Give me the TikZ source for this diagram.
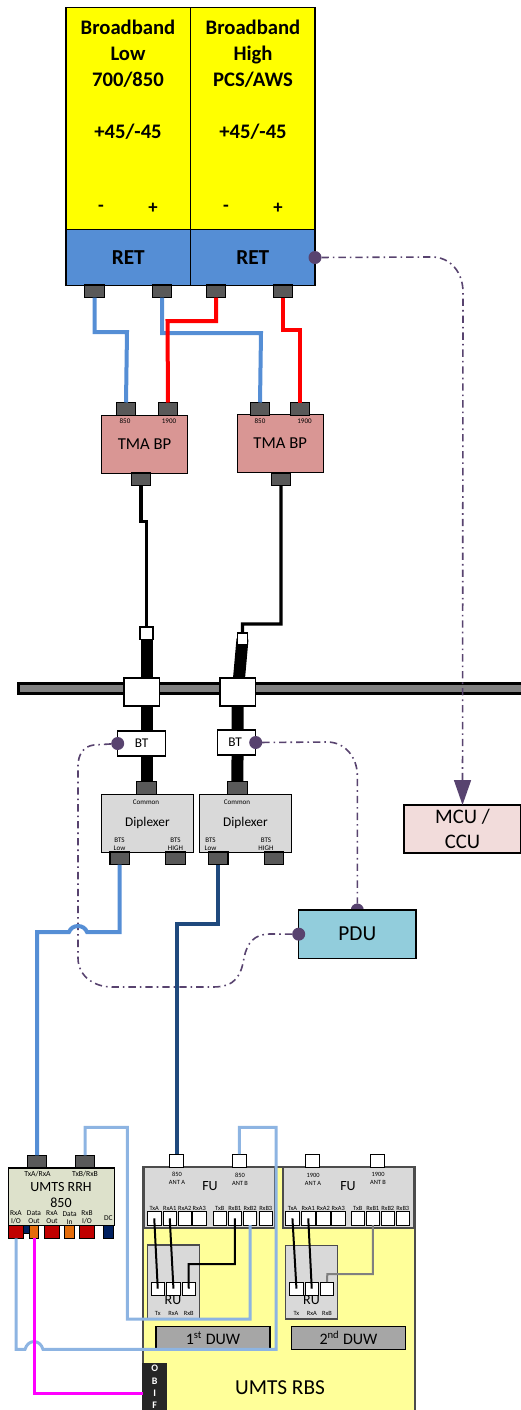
\documentclass[tikz,border=0pt]{standalone}
\usepackage{fontspec}
\setmainfont{Carlito}
\usetikzlibrary{arrows.meta,positioning,backgrounds}
\definecolor{retblue}{HTML}{558ED5}
\definecolor{lightwire}{HTML}{8DB4E2}
\definecolor{darkwire}{HTML}{1F497D}
\definecolor{tmared}{HTML}{D99694}
\definecolor{portgray}{HTML}{595959}
\definecolor{boxgray}{HTML}{D9D9D9}
\definecolor{pducol}{HTML}{92CDDC}
\definecolor{mcucol}{HTML}{F2DCDB}
\definecolor{rrhcol}{HTML}{DDE1CB}
\definecolor{rbscol}{HTML}{FFFF99}
\definecolor{duwcol}{HTML}{A6A6A6}
\definecolor{ctrl}{HTML}{58436F}
\definecolor{redport}{HTML}{C00000}
\definecolor{orangeport}{HTML}{E46C0A}
\definecolor{navyport}{HTML}{002060}
\definecolor{magwire}{HTML}{FF00FF}
\definecolor{redwire}{HTML}{FF0000}
\definecolor{antyellow}{HTML}{FFFF00}

\begin{document}
\begin{tikzpicture}[
  x=0.75pt, y=-0.75pt,
  wh/.style 2 args={minimum width=#1*0.75pt, minimum height=#2*0.75pt},
  box/.style={draw, line width=0.8pt, inner sep=0pt, outer sep=0pt, align=center, anchor=north west},
  gport/.style={box, fill=portgray, wh={19.4}{12.7}, anchor=north},
  wport/.style={box, line width=0.6pt, fill=white, wh={14}{13}, anchor=north},
  fport/.style={box, line width=0.6pt, fill=white, wh={13.5}{13.3}},
  cport/.style={box, wh={#1}{13}},
  dot/.style={circle, fill=ctrl, inner sep=0pt, outer sep=0pt, minimum size=13*0.75pt},
  lab/.style={font=\fontsize{5.3}{6}\selectfont, align=center, inner sep=0pt},
  fulab/.style={font=\fontsize{4.8}{6}\selectfont, align=center, inner sep=0pt},
  headtxt/.style={font=\fontsize{15.5}{19.5}\selectfont\bfseries, align=center, inner sep=0pt},
  rettxt/.style={box, fill=retblue, wh={124.5}{56}, font=\fontsize{16}{18}\selectfont\bfseries},
  tmabox/.style={box, fill=tmared, wh={86}{58}, font=\fontsize{12.5}{14}\selectfont},
  dipbox/.style={box, fill=boxgray, wh={91.5}{58}, font=\fontsize{10}{11}\selectfont},
  bigtxt/.style={font=\fontsize{15.5}{18.7}\selectfont, align=center},
  midtxt/.style={inner sep=0pt, align=center, font=\fontsize{10.5}{12}\selectfont},
  wire/.style={line width=3pt, line join=miter},
  thinwire/.style={line width=2.25pt, lightwire},
  fuwire/.style={line width=1.5pt},
  cable/.style={line width=9pt},
  ctrlline/.style={ctrl, line width=1.2pt, dash pattern=on 5.5pt off 3pt on 1.2pt off 3pt},
]
\useasboundingbox (0,0) rectangle (521,1410);

\node[box, fill=antyellow, wh={124.5}{222}] (antlow) at (66,7.5) {};
\node[box, fill=antyellow, wh={124.5}{222}, right=0pt of antlow] (anthigh) {};
\node[rettxt, below=0pt of antlow] (retlow) {RET};
\node[rettxt, below=0pt of anthigh] (rethigh) {RET};
\node[headtxt, anchor=north] (lowtxt) at (128,20) {Broadband\\Low\\700/850\\[19.5pt]+45/-45};
\node[headtxt, anchor=north] (hightxt) at (253,20) {Broadband\\High\\PCS/AWS\\[19.5pt]+45/-45};
\foreach \nm/\xx/\txt in {lm/101/-, lp/153/+, hm/226/-, hp/278/+}
  \node[headtxt, font=\fontsize{14}{16}\selectfont\bfseries] (pol\nm) at (\xx,208.5) {\txt};

\node[gport] (rp1) at (94.5,285) {};
\node[gport] (rp2) at (162,285) {};
\node[gport] (rp3) at (216,285) {};
\node[gport] (rp4) at (283,285) {};

\node[tmabox] (tma1) at (101.6,415.3) {TMA BP};
\node[tmabox] (tma2) at (237.2,414.3) {TMA BP};
\node[gport] (tp1) at (126,402.5) {};
\node[gport] (tp2) at (168,402.5) {};
\node[gport] (tp3) at (260,402.5) {};
\node[gport] (tp4) at (300,402.5) {};
\node[lab] (t850a) at (125,421.5) {850};
\node[lab] (t19a) at (169,421.5) {1900};
\node[lab] (t850b) at (260,421) {850};
\node[lab] (t19b) at (304.5,421) {1900};
\node[gport] (tb1) at (141,473) {};
\node[gport] (tb2) at (281,473) {};

\node[box, draw=black, line width=2.25pt, fill=gray, wh={515}{10}] (roof) at (18,683.5) {};
\node[box, fill=white, wh={13}{12.5}] (sb1) at (140,627) {};
\node[box, fill=white, wh={9.6}{12}] (sb2) at (237.7,633) {};
\node[box, fill=white, wh={35.6}{28}] (en1) at (124,678) {};
\node[box, fill=white, wh={35.6}{28}] (en2) at (220,678) {};
\node[box, fill=white, wh={48}{25}, font=\fontsize{10}{12}\selectfont] (bt1) at (117.7,731) {BT};
\node[box, fill=white, wh={38.4}{25}, font=\fontsize{10}{12}\selectfont] (bt2) at (217.3,730) {\hspace*{-2pt}BT};

\node[dipbox] (dip1) at (101.7,794.3) {Diplexer};
\node[dipbox] (dip2) at (199.7,794.3) {Diplexer};
\node[gport, anchor=south] (dc1) at (146.5,794.5) {};
\node[gport, anchor=south] (dc2) at (237.4,794.5) {};
\node[lab] (com1) at (146,802) {Common};
\node[lab] (com2) at (237,802) {Common};
\node[lab] (bl1) at (119.5,844) {BTS\\Low};
\node[lab] (bh1) at (175.5,844) {BTS\\HIGH};
\node[lab] (bl2) at (210.5,844) {BTS\\Low};
\node[lab] (bh2) at (266,844) {BTS\\HIGH};
\node[gport] (dl1) at (119.7,852) {};
\node[gport] (dh1) at (175.4,852) {};
\node[gport] (dl2) at (218.3,852) {};
\node[gport] (dh2) at (274.2,852) {};

\node[dot] (dotret) at (rethigh.east) {};
\node[dot] (dotbt1) at (bt1.west) {};
\node[dot] (dotbt2) at (bt2.east) {};
\node[dot] (dotpdu2) at (357.3,910) {};
\node[box, fill=pducol, wh={117.3}{48.3}, font=\fontsize{16}{18}\selectfont] (pdu) at (298.7,910) {PDU};
\node[dot] (dotpdu) at (pdu.west) {};
\node[box, fill=mcucol, wh={117}{48}, bigtxt] (mcu) at (404,805) {MCU /\\CCU};

\node[box, draw=black!70, fill=rbscol, wh={272}{250}] (rbs) at (143,1167) {};
\node[bigtxt, font=\fontsize{16}{18}\selectfont] (rbstxt) at (280,1388) {UMTS RBS};
\node[box, fill=black!85, draw=black!85, wh={23.5}{58}] (obif) at (143,1364) {};
\node[font=\fontsize{7.5}{9.25}\selectfont\bfseries, text=white, align=center, inner sep=0pt, anchor=north] (obiftxt) at (154.7,1365) {O\\B\\I\\F};

\node[box, fill=rrhcol, wh={106}{57.3}] (rrh) at (8.3,1168) {};
\node[midtxt] (rrhtxt) at (61,1195) {UMTS RRH\\850};
\node[gport] (rt1) at (37,1155.3) {};
\node[gport] (rt2) at (85,1155.3) {};
\node[lab, font=\fontsize{5.8}{7}\selectfont] (rl1) at (37.5,1173.5) {TxA/RxA};
\node[lab, font=\fontsize{5.8}{7}\selectfont] (rl2) at (85,1173.5) {TxB/RxB};
\node[box, fill=navyport, wh={6}{8}] (rstub) at (23.7,1225.3) {};
\foreach \nm/\xx/\ww/\col/\txt in {1/8.3/15.4/redport/{RxA\\I/O},2/29.3/9.4/orangeport/{Data\\Out},3/44.3/15.4/redport/{RxA\\Out},4/64.7/10/orangeport/{Data\\In},5/79.3/15.4/redport/{RxB\\I/O},6/103.3/10/navyport/{DC}} {
  \node[cport=\ww, fill=\col] (rb\nm) at (\xx,1225.3) {};
  \node[lab, font=\fontsize{5.6}{6}\selectfont] (rbl\nm) at ([yshift=7.7*0.75pt]rb\nm.north) {\txt};
}

\node[box, draw=black!70, fill=boxgray, wh={130.3}{61}] (fu1) at (144.7,1167) {};
\node[box, draw=black!70, fill=boxgray, wh={130.3}{61}] (fu2) at (283,1167) {};
\node[midtxt] (futxt1) at (210,1186) {FU};
\node[midtxt] (futxt2) at (348,1186) {FU};
\node[wport] (a1) at (176.7,1154) {};
\node[wport] (a2) at (239.3,1154) {};
\node[wport] (a3) at (312,1154) {};
\node[wport] (a4) at (377,1154) {};
\node[fulab] (al1) at (177,1178) {850\\ANT A};
\node[fulab] (al2) at (240,1179) {850\\ANT B};
\node[fulab] (al3) at (313,1179.5) {1900\\ANT A};
\node[fulab] (al4) at (378,1178) {1900\\ANT B};
\foreach \nm/\xx/\txt in {txa/147.5/TxA,rxa/163/RxA1,rxb/178/RxA2,rxc/192.5/RxA3,txb/213/TxB,rxd/228/RxB1,rxe/243.3/RxB2,rxf/259/RxB3}
  \node[fport, label={[fulab, yshift=0.5pt]above:\txt}] (fa\nm) at (\xx,1211.7) {};
\foreach \nm/\xx/\txt in {txa/285.7/TxA,rxa/301.5/RxA1,rxb/316.5/RxA2,rxc/331.5/RxA3,txb/351/TxB,rxd/366/RxB1,rxe/381/RxB2,rxf/396/RxB3}
  \node[fport, label={[fulab, yshift=0.5pt]above:\txt}] (fb\nm) at (\xx,1211.7) {};

\node[box, draw=black!70, fill=boxgray, wh={51.5}{73.3}] (ru1) at (147.7,1245) {};
\node[box, draw=black!70, fill=boxgray, wh={52}{73.3}] (ru2) at (285.7,1245.7) {};
\foreach \nm/\xx/\txt in {t/151/Tx,a/166.7/RxA,b/182/RxB}
  \node[fport, label={[fulab]below:\phantom{X}\\[6pt]\txt}] (ua\nm) at (\xx,1282) {};
\foreach \nm/\xx/\txt in {t/289.7/Tx,a/305/RxA,b/320.3/RxB}
  \node[fport, label={[fulab]below:\phantom{X}\\[6pt]\txt}] (ub\nm) at (\xx,1282) {};
\node[midtxt] (rutxt1) at (173,1300) {RU};
\node[midtxt] (rutxt2) at (311.5,1300) {RU};
\node[box, fill=duwcol, wh={114}{22.5}, font=\fontsize{12}{14}\selectfont] (duw1) at (156,1326.7) {1\textsuperscript{st} DUW};
\node[box, fill=duwcol, wh={114}{22.5}, font=\fontsize{12}{14}\selectfont] (duw2) at (291.5,1326.7) {2\textsuperscript{nd} DUW};

\begin{scope}[on background layer]
\draw[cable] (sb1.center) -- (dc1.north);
\draw[cable] (sb2.center) -- (en2.center) -- (dc2.north);
\end{scope}

\draw[wire, retblue] (rp1.south) |- (127,332) -- (tp1.north);
\draw[wire, retblue] (rp2.south) |- (261,333) -- (tp3.north);
\draw[wire, redwire] (rp3.south) |- (167.5,321) -- (tp2.north);
\draw[wire, redwire] (rp4.south) |- (300,330) -- (tp4.north);
\draw[wire, black, line width=2.6pt] (tb1.south) -- (141,521.5) -- (146.5,521.5) -- (sb1.north);
\draw[wire, black, line width=2.6pt] (tb2.south) |- (242.5,624) -- (sb2.north);

\draw[ctrlline, -{Triangle[length=25*0.75pt, width=17*0.75pt]}] (dotret) -- (432,257) .. controls (450,257) and (463,272) .. (463,292) -- (mcu.north);
\draw[ctrlline] (dotbt1) -- (94,745) .. controls (84,746) and (78,754) .. (78,766) -- (78,958) .. controls (78,976) and (94,987) .. (112,987) -- (213,987) .. controls (236,987) and (241,975) .. (244,958) .. controls (247,943) and (254,934) .. (270,934) -- (dotpdu);
\draw[ctrlline] (dotbt2) -- (327,742) .. controls (345,742) and (357,757) .. (357.3,775) -- (dotpdu2);

\draw[wire, retblue] (dl1.south) -- (119.7,932) -- (87,932) .. controls (84,924) and (72,924) .. (69,932) -- (37,932) -- (rt1.north);
\draw[wire, darkwire] (dl2.south) |- (176.7,924) -- (a1.north);
\draw[thinwire] (rt2.north) |- (127.3,1127.3) |- (250,1319) -- (farxe.south);
\draw[thinwire] (rb1.south) |- (25,1349.3) .. controls (28,1339) and (40,1339) .. (43,1349.3) -- (276,1349.3) -- (276,1127.3) -| (a2.north);
\draw[wire, magwire, line width=2.25pt] (rb2.south) |- (obif.west);

\draw[fuwire] (fatxa.center) -- (uat.center);
\draw[fuwire] (farxa.center) -- (uaa.center);
\draw[fuwire] (farxd.center) |- (188.7,1264) -- (uab.center);
\draw[fuwire] (fbtxa.center) -- (ubt.center);
\draw[fuwire] (fbrxa.center) -- (uba.center);
\draw[fuwire, gray] (fbrxd.south) |- (327.3,1274) -- (ubb.north);
\end{tikzpicture}
\end{document}
